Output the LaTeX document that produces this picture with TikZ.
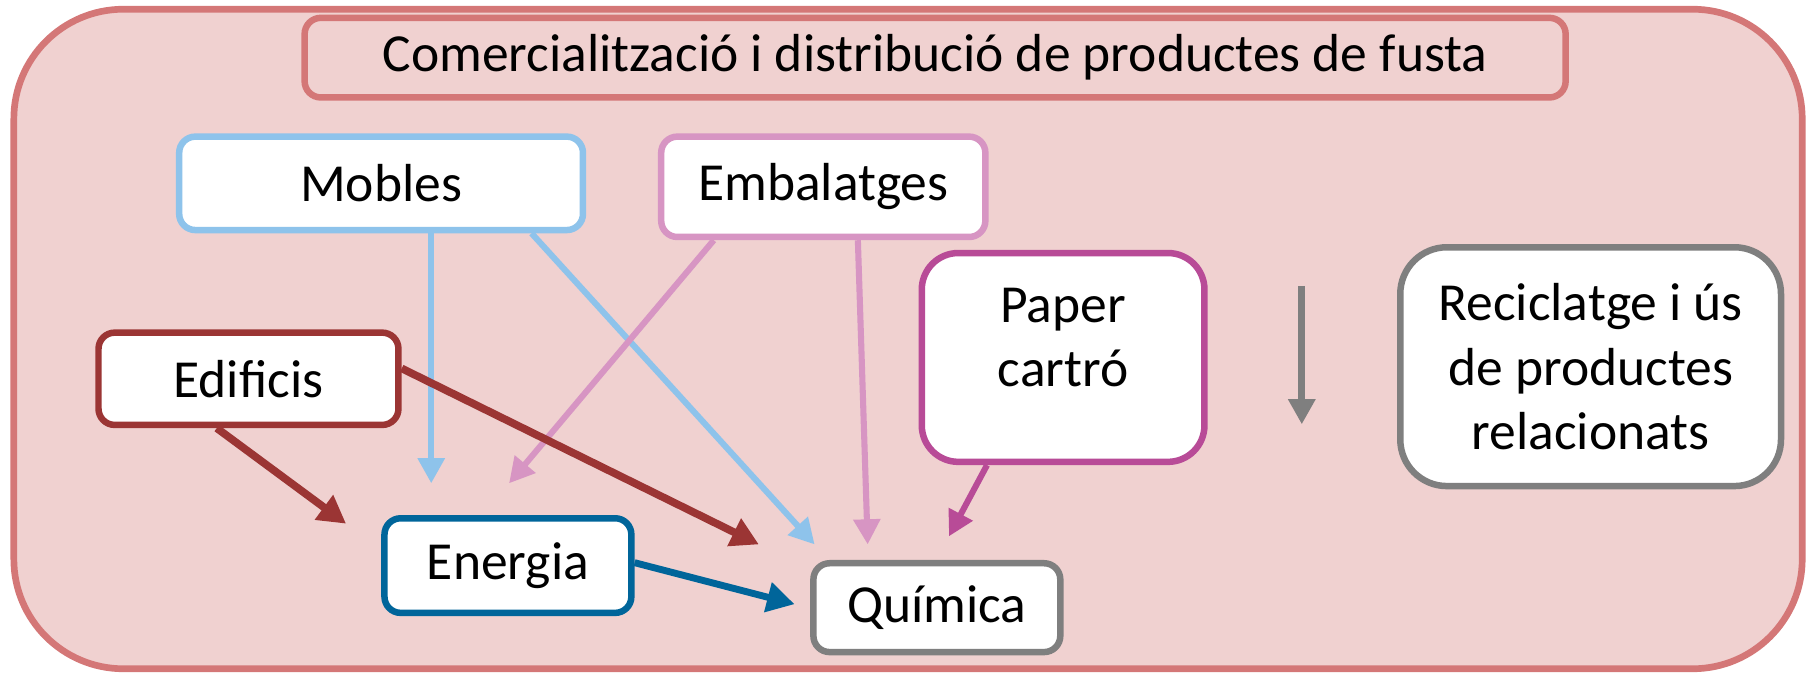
\documentclass[tikz,border=0pt]{standalone}
\usepackage{fontspec}
\setmainfont{Carlito}
\usetikzlibrary{arrows.meta}
\definecolor{frameRed}{HTML}{D47777}
\definecolor{framePink}{HTML}{F0D1D0}
\definecolor{mobBlue}{HTML}{8EC3EB}
\definecolor{embPink}{HTML}{D795C3}
\definecolor{papMag}{HTML}{B84B97}
\definecolor{recGray}{HTML}{7F7F7F}
\definecolor{edfRed}{HTML}{9B3534}
\definecolor{enrBlue}{HTML}{00659A}

\begin{document}
\begin{tikzpicture}[
    x=0.01cm, y=-0.01cm,
    box/.style={draw, fill=white, rounded corners=4pt, line width=1.6pt,
                align=center, inner sep=0pt,
                font=\fontsize{13.2pt}{15.8pt}\selectfont},
    arr/.style={-{Triangle[length=6.2pt, width=6.4pt]}, line width=1.5pt},
    arrthick/.style={-{Triangle[length=6.8pt, width=7.2pt]}, line width=1.9pt}
  ]
  \useasboundingbox (0,0) rectangle (1568,585);
  % --- Frame and title ---
  \draw[frameRed, fill=framePink, line width=1.65pt, rounded corners=0.95cm]
    (12,8) rectangle (1563,580);
  \node[box, draw=frameRed, fill=framePink, minimum width=10.93cm,
        minimum height=0.69cm] (title) at (811,50)
    {Comercialització i distribució de productes de fusta};
  % --- Products ---
  \node[box, draw=mobBlue, minimum width=3.5cm, minimum height=0.81cm]
    (mobles) at (330.5,159) {Mobles};
  \node[box, draw=embPink, minimum width=2.81cm, minimum height=0.87cm]
    (embal) at (714,162) {Embalatges};
  \node[box, draw=papMag, rounded corners=9pt, minimum width=2.45cm,
        minimum height=1.81cm, text height=1.161cm, text depth=0.649cm]
    (paper) at (922,310) {Paper\\cartró};
  \node[box, draw=recGray, rounded corners=11.5pt, minimum width=3.3cm,
        minimum height=2.07cm]
    (recic) at (1379.5,318) {Reciclatge i ús\\de productes\\relacionats};
  \node[box, draw=edfRed, minimum width=2.6cm, minimum height=0.8cm]
    (edif) at (215.5,328.5) {Edificis};
  \node[box, draw=enrBlue, minimum width=2.14cm, minimum height=0.82cm]
    (energ) at (440.5,490.5) {Energia};
  \node[box, draw=recGray, minimum width=2.14cm, minimum height=0.77cm]
    (quim) at (812.5,527) {Química};
  % --- Flows ---
  \draw[arr, mobBlue] ([shift={(43.5,0)}]mobles.south)
    -- ([shift={(-66.5,-27.5)}]energ.north);
  \draw[arr, mobBlue] ([shift={(130.5,0)}]mobles.south)
    -- ([shift={(-106,-13.5)}]quim.north);
  \draw[arr, embPink] ([shift={(-95,0)}]embal.south)
    -- ([shift={(1,-27.5)}]energ.north);
  \draw[arr, embPink] ([shift={(30,0)}]embal.south)
    -- ([shift={(-60,-13.5)}]quim.north);
  \draw[arr, papMag] ([shift={(-66,0)}]paper.south)
    -- ([shift={(10.5,-20.5)}]quim.north);
  \draw[arrthick, edfRed] ([shift={(-27.5,0)}]edif.south)
    -- ([shift={(-30.5,7.5)}]energ.north west);
  \draw[arrthick, edfRed] ([shift={(0,-9)}]edif.east)
    -- ([shift={(-44.5,-13.5)}]quim.north west);
  \draw[arrthick, enrBlue, line width=1.7pt] ([shift={(0,-2.5)}]energ.east)
    -- ([shift={(-13.5,-3)}]quim.west);
  % --- Recycling arrow ---
  \coordinate (rectop) at (1129,248);
  \coordinate (recbot) at (1129,368);
  \draw[arr, recGray, line width=1.7pt] (rectop) -- (recbot);
\end{tikzpicture}
\end{document}
